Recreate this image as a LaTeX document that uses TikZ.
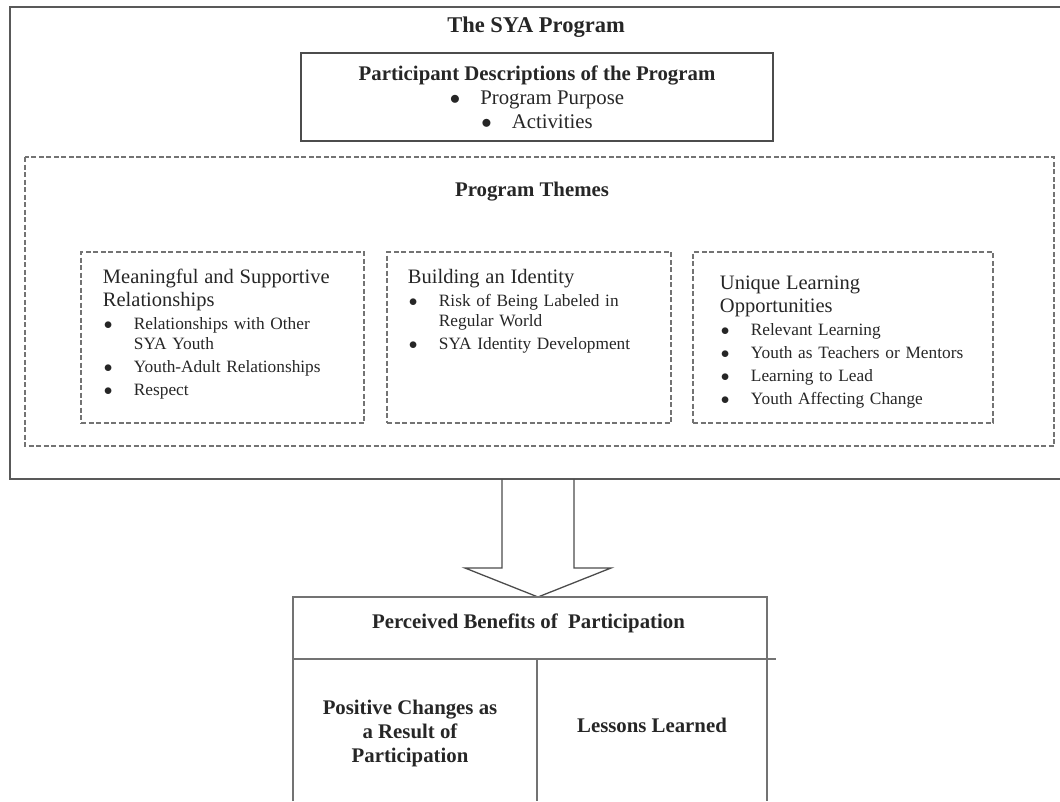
\documentclass[tikz,border=0pt]{standalone}
\usepackage{fontspec}
\setmainfont{Liberation Serif}
\usetikzlibrary{positioning}
\newcommand{\bul}[1]{\par\vspace{2.5pt}\hangindent=31pt\hangafter=1\noindent\makebox[31pt][l]{\hspace{1pt}$\bullet$}#1}
\begin{document}
\begin{tikzpicture}[x=1pt,y=-1pt,line width=1pt,
  frame/.style={draw=black!65,line width=1.8pt},
  thin frame/.style={draw=black!55,line width=1.4pt},
  dashbox/.style={draw=black!55,line width=1.1pt,dash pattern=on 5pt off 2.5pt},
  themebox/.style={dashbox,minimum height=171pt,inner sep=0pt},
  themetext/.style={anchor=north west,inner sep=0pt,align=left,text width=270pt,
    text=black!85,font=\fontsize{17.3}{20.5}\selectfont},
  boldtext/.style={font=\bfseries\fontsize{20.8}{24}\selectfont,text=black!85,align=center}]
  \useasboundingbox (0,0) rectangle (1060,801);
  % outer program frame, open on the right
  \draw[frame] (1062,7) -| (10,479) -- (1062,479);
  \node[boldtext,font=\bfseries\fontsize{22.5}{24}\selectfont] (title) at (536,27) {The SYA Program};
  \node[draw=black!70,line width=1.8pt,minimum width=472pt,minimum height=88pt,align=center,
    text=black!85,font=\fontsize{20.8}{24}\selectfont] (desc) at (537,97)
    {\textbf{Participant Descriptions of the Program}\\
     $\bullet$\hspace{20pt}Program Purpose\\
     $\bullet$\hspace{20pt}Activities};
  % program themes
  \draw[dashbox] (25,157) rectangle (1054,446);
  \node[boldtext] (themes) at (532,192) {Program Themes};
  \node[themebox,minimum width=283pt] (rel) at (222.5,337.5) {};
  \node[themebox,minimum width=284pt] (ident) at (529,337.5) {};
  \node[themebox,minimum width=300pt] (learn) at (843,337.5) {};
  \node[themetext] (reltxt) at ([shift={(22,17)}]rel.north west)
    {{\fontsize{20.5}{23}\selectfont Meaningful and Supportive\\Relationships\par}
     \bul{Relationships with Other\newline SYA Youth}
     \bul{Youth-Adult Relationships}
     \bul{Respect}};
  \node[themetext] (identtxt) at ([shift={(21,17)}]ident.north west)
    {{\fontsize{20.5}{23}\selectfont Building an Identity\par}
     \bul{Risk of Being Labeled in\newline Regular World}
     \bul{SYA Identity Development}};
  \node[themetext] (learntxt) at ([shift={(27,24)}]learn.north west)
    {{\fontsize{20.5}{23}\selectfont Unique Learning\\Opportunities\par}
     \bul{Relevant Learning}
     \bul{Youth as Teachers or Mentors}
     \bul{Learning to Lead}
     \bul{Youth Affecting Change}};
  % hollow arrow into the benefits table
  \coordinate (from) at (538,479);
  \coordinate (to) at (538,597);
  \draw[draw=black!70,line width=1.3pt,line join=miter]
    ([xshift=-36pt]from) -- ([shift={(-36,-29)}]to) -- ([shift={(-73,-29)}]to) -- (to)
    -- ([shift={(73,-29)}]to) -- ([shift={(36,-29)}]to) -- ([xshift=36pt]from);
  % benefits table, open at the bottom
  \draw[thin frame] (293,801) |- (767,597) -- (767,801);
  \draw[thin frame] (293,659) -- (776,659);
  \draw[thin frame] (537,659) -- (537,801);
  \node[boldtext] (benefits) at (528.5,623) {Perceived Benefits of\ \ Participation};
  \node[boldtext] (changes) at (410,733) {Positive Changes as\\a Result of\\Participation};
  \node[boldtext] (lessons) at (652,725) {Lessons Learned};
\end{tikzpicture}
\end{document}
